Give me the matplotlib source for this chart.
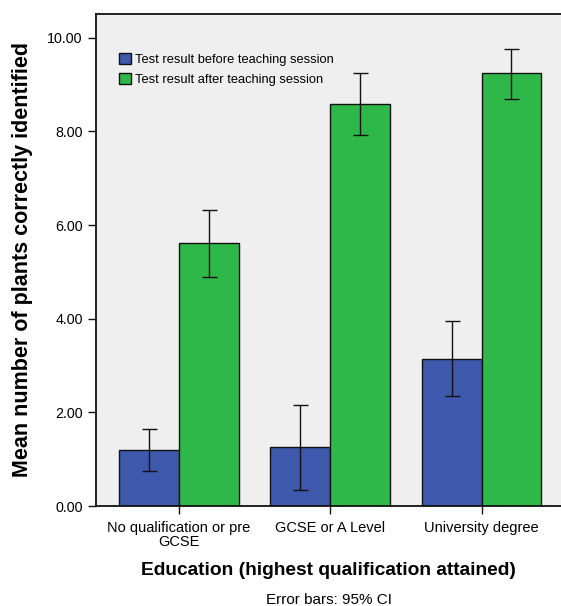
import numpy as np
import matplotlib
matplotlib.use('Agg')
from matplotlib import pyplot as plt

plt.rcParams['font.family'] = ['Liberation Sans', 'DejaVu Sans']

categories = ['No qualification or pre\nGCSE', 'GCSE or A Level', 'University degree']
series_names = ['Test result before teaching session', 'Test result after teaching session']

before_mean = [1.20, 1.25, 3.15]
before_lower = [0.75, 0.35, 2.36]
before_upper = [1.64, 2.16, 3.96]

after_mean = [5.61, 8.58, 9.24]
after_lower = [4.89, 7.92, 8.70]
after_upper = [6.32, 9.24, 9.76]

y_ticks = [0, 2, 4, 6, 8, 10]
y_ticklabels = ['0.00', '2.00', '4.00', '6.00', '8.00', '10.00']

blue = '#3e58ab'
green = '#2eb84a'


def main():
    fig = plt.figure(figsize=(5.61, 6.06), dpi=100)
    ax = fig.add_axes([96 / 561, 100 / 606, 1 - 96 / 561, (506 - 13.5) / 606])
    ax.set_facecolor('#efefef')

    x = np.arange(len(categories))
    w = 0.396
    means = [before_mean, after_mean]
    lows = [before_lower, after_lower]
    highs = [before_upper, after_upper]
    colors = [blue, green]
    offsets = [-w / 2, w / 2]

    for m, lo, hi, c, off, name in zip(means, lows, highs, colors, offsets, series_names):
        m = np.array(m)
        yerr = np.vstack([m - np.array(lo), np.array(hi) - m])
        ax.bar(x + off, m, width=w, color=c, edgecolor='#111111', linewidth=1.0,
               label=name, zorder=2)
        ax.errorbar(x + off, m, yerr=yerr, fmt='none', ecolor='#111111',
                    elinewidth=1.0, capsize=5.4, capthick=1.0, zorder=3)

    ax.set_xlim(-0.546, 2.525)
    ax.set_ylim(0, 10.52)
    ax.set_xticks(x)
    ax.set_xticklabels(categories, fontsize=10.5, linespacing=1.0)
    ax.set_yticks(y_ticks)
    ax.set_yticklabels(y_ticklabels, fontsize=10.3)
    ax.tick_params(axis='both', direction='out', length=6, width=1.0, color='#111111')
    ax.tick_params(axis='x', pad=5)

    for s in ['left', 'bottom', 'top']:
        ax.spines[s].set_linewidth(1.3)
        ax.spines[s].set_color('#111111')
    ax.spines['right'].set_visible(False)

    ax.set_ylabel('Mean number of plants correctly identified', fontsize=15.5,
                  fontweight='bold')
    ax.yaxis.set_label_coords(-0.135, 0.5)
    ax.set_xlabel('Education (highest qualification attained)', fontsize=13.8,
                  fontweight='bold', labelpad=9)
    fig.text(0.5 * (96 + 561) / 561, 1 - 600 / 606, 'Error bars: 95% CI',
             ha='center', va='center', fontsize=11)

    ax.legend(loc='upper left', bbox_to_anchor=(0.038, 0.931), frameon=False,
              fontsize=9.3, handlelength=0.95, handleheight=0.95,
              handletextpad=0.3, labelspacing=0.55, borderaxespad=0)

    plt.savefig('out.png', dpi=100)


if __name__ == '__main__':
    main()
